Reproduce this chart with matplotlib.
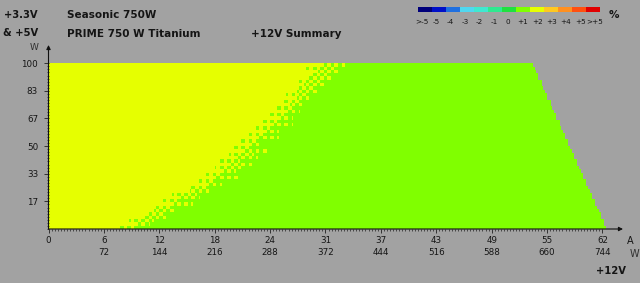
import numpy as np
import matplotlib
matplotlib.use("Agg")
import matplotlib.pyplot as plt
from matplotlib.colors import ListedColormap, BoundaryNorm

# ---------------- data ----------------
# colour scale (deviation of +12V, %)
scale_labels = [">-5", "-5", "-4", "-3", "-2", "-1", "0", "+1", "+2", "+3", "+4", "+5", ">+5"]
scale_colors = ["#00007a", "#0010c8", "#2070e0", "#50d8f0", "#40e8d0", "#30e890", "#20e040",
                "#80ff00", "#e6ff00", "#ffc820", "#ff9020", "#ff5010", "#e00000"]

# +3.3V & +5V load rows (W, lower edges of 2 W rows)
load_rows_w = list(range(0, 100, 2))
# +12V current where each row stops being fully "+2" (yellow)
yellow_until_a = [7.0, 7.8, 8.6, 9.3, 10.0, 10.5, 11.1, 11.8, 12.3, 12.9,
                  13.5, 14.2, 15.0, 15.5, 16.2, 16.8, 17.2, 17.6, 18.1, 18.5,
                  18.9, 19.2, 19.6, 19.9, 20.3, 20.6, 21.0, 21.3, 21.7, 22.0,
                  22.4, 22.8, 23.2, 23.6, 23.9, 24.3, 24.6, 25.0, 25.3, 25.7,
                  26.0, 26.4, 26.7, 27.0, 27.4, 27.7, 28.1, 28.4, 28.8, 29.2]
# width of the mixed yellow/green zone (A)
mixed_width_a = [4.8, 4.6, 4.5, 4.7, 4.4, 4.6, 4.7, 4.5, 4.8, 4.6,
                 4.4, 4.7, 4.6, 4.8, 4.5, 4.7, 4.6, 4.4, 4.7, 4.8,
                 4.6, 4.5, 4.7, 4.6, 4.8, 4.4, 4.6, 4.7, 4.5, 4.8,
                 4.6, 4.7, 4.4, 4.8, 4.6, 4.5, 4.7, 4.6, 4.8, 4.4,
                 4.7, 4.6, 4.5, 4.8, 4.7, 4.6, 4.8, 4.9, 5.0, 5.2]
# maximum +12V current measured in each row (A)
max_current_a = [62.4, 62.2, 62.1, 61.9, 61.8, 61.6, 61.4, 61.3, 61.1, 60.9,
                 60.8, 60.6, 60.4, 60.3, 60.1, 59.9, 59.8, 59.6, 59.4, 59.3,
                 59.1, 58.9, 58.8, 58.6, 58.4, 58.3, 58.1, 57.9, 57.8, 57.6,
                 57.4, 57.3, 57.1, 56.9, 56.8, 56.6, 56.4, 56.3, 56.1, 55.9,
                 55.8, 55.6, 55.4, 55.3, 55.1, 54.9, 54.8, 54.6, 54.4, 54.3]
current_step_a = 0.2

# axis ticks
x_tick_a = [0, 6.2, 12.4, 18.6, 24.8, 31.0, 37.2, 43.4, 49.6, 55.8, 62.0]
x_labels_a = ["0", "6", "12", "18", "24", "31", "37", "43", "49", "55", "62"]
x_labels_w = ["", "72", "144", "216", "288", "372", "444", "516", "588", "660", "744"]
y_tick_w = [100 / 6 * k for k in range(1, 7)]
y_labels = ["17", "33", "50", "67", "83", "100"]

# ---------------- build grid ----------------
b4 = np.array([[0, 8, 2, 10], [12, 4, 14, 6], [3, 11, 1, 9], [15, 7, 13, 5]])
bayer = np.block([[4 * b4, 4 * b4 + 2], [4 * b4 + 3, 4 * b4 + 1]])  # 8x8 ordered dither
i_edges = np.arange(0, 62.6 + 1e-9, current_step_a)
i_cent = 0.5 * (i_edges[:-1] + i_edges[1:])
p_edges = np.array(load_rows_w + [100])
grid = np.full((len(load_rows_w), len(i_cent)), np.nan)
iy = scale_labels.index("+2")
ig = scale_labels.index("+1")
for r in range(len(load_rows_w)):
    for c, ic in enumerate(i_cent):
        if ic > max_current_a[r]:
            continue
        f = (ic - yellow_until_a[r]) / mixed_width_a[r]
        if f <= 0:
            grid[r, c] = iy
        elif f >= 1:
            grid[r, c] = ig
        else:
            thr = (bayer[r % 8, (c // 2) % 8] + 0.5) / 64
            grid[r, c] = ig if f > thr else iy
grid = np.ma.masked_invalid(grid)

cmap = ListedColormap(scale_colors)
norm = BoundaryNorm(np.arange(-0.5, len(scale_colors) + 0.5), len(scale_colors))

# ---------------- figure ----------------
BG = "#a2a2a2"
TXT = "#151515"
W, H = 640, 283
fig = plt.figure(figsize=(W / 100, H / 100), dpi=100, facecolor=BG)

x0, x1 = 48.5, 623.0
y0, y1 = 229.0, 45.0
ax = fig.add_axes([x0 / W, 1 - y0 / H, (x1 - x0) / W, (y0 - y1) / H])
ax.set_facecolor(BG)
xmax = 64.3
ymax = 111.0
ax.set_xlim(0, xmax)
ax.set_ylim(0, ymax)
ax.pcolormesh(i_edges, p_edges, grid, cmap=cmap, norm=norm, shading="flat")

for s in ax.spines.values():
    s.set_visible(False)

# axis arrows
ax.annotate("", xy=(xmax, 0), xytext=(0, 0), xycoords="data",
            arrowprops=dict(arrowstyle="-|>", color="#101010", lw=0.8,
                            mutation_scale=6, shrinkA=0, shrinkB=0),
            annotation_clip=False)
ax.annotate("", xy=(0, ymax), xytext=(0, 0), xycoords="data",
            arrowprops=dict(arrowstyle="-|>", color="#101010", lw=0.8,
                            mutation_scale=6, shrinkA=0, shrinkB=0),
            annotation_clip=False)

fs = 6.3
ax.set_xticks(x_tick_a)
ax.set_xticklabels([a if w == "" else a + "\n" + w for a, w in zip(x_labels_a, x_labels_w)],
                   fontsize=fs, color=TXT, linespacing=1.45, va="top")
ax.set_yticks(y_tick_w)
ax.set_yticklabels(y_labels, fontsize=fs, color=TXT)
ax.set_xticks(np.arange(0, 62.1, 6.2 / 18), minor=True)
ax.set_yticks(np.arange(0, 100.1, 100 / 54), minor=True)
ax.tick_params(axis="x", which="major", length=3, width=0.6, color="#202020", pad=2)
ax.tick_params(axis="x", which="minor", length=1.5, width=0.5, color="#202020")
ax.tick_params(axis="y", which="major", length=3.5, width=0.6, color="#202020", pad=4)
ax.tick_params(axis="y", which="minor", length=1.5, width=0.5, color="#202020")

# axis unit labels
fig.text(630 / W, 1 - 241 / H, "A", fontsize=7, color=TXT, ha="center", va="center")
fig.text(634 / W, 1 - 254 / H, "W", fontsize=7, color="#303030", ha="center", va="center")
fig.text(34 / W, 1 - 47 / H, "W", fontsize=6.5, color="#303030", ha="center", va="center")
fig.text(611 / W, 1 - 271 / H, "+12V", fontsize=7.2, color=TXT, fontweight="bold",
         ha="center", va="center")

# title texts
fig.text(4 / W, 1 - 15 / H, "+3.3V", fontsize=7.2, color=TXT, fontweight="bold", va="center")
fig.text(3 / W, 1 - 33 / H, "& +5V", fontsize=7.2, color=TXT, fontweight="bold", va="center")
fig.text(67 / W, 1 - 15 / H, "Seasonic 750W", fontsize=7.5, color=TXT, fontweight="bold", va="center")
fig.text(67 / W, 1 - 34 / H, "PRIME 750 W Titanium", fontsize=7.5, color=TXT, fontweight="bold", va="center")
fig.text(251 / W, 1 - 34 / H, "+12V Summary", fontsize=7.5, color=TXT, fontweight="bold", va="center")

# colour scale legend
cl, cr, ct, cb = 418.0, 600.0, 7.0, 12.0
cax = fig.add_axes([cl / W, 1 - cb / H, (cr - cl) / W, (cb - ct) / H])
cax.bar(range(len(scale_colors)), [1] * len(scale_colors), width=1.0,
        color=scale_colors, align="center")
cax.set_xlim(-0.5, len(scale_colors) - 0.5)
cax.set_ylim(0, 1)
cax.axis("off")
lab_c0, lab_c1 = 421.5, 595.0
for k, lab in enumerate(scale_labels):
    xc = lab_c0 + (lab_c1 - lab_c0) * k / (len(scale_labels) - 1)
    fig.text(xc / W, 1 - 22 / H, lab, fontsize=5.2, color=TXT,
             ha="center", va="center")
fig.text(614 / W, 1 - 15 / H, "%", fontsize=7.5, color=TXT, fontweight="bold",
         ha="center", va="center")

fig.savefig("out.png", dpi=100, facecolor=BG)
